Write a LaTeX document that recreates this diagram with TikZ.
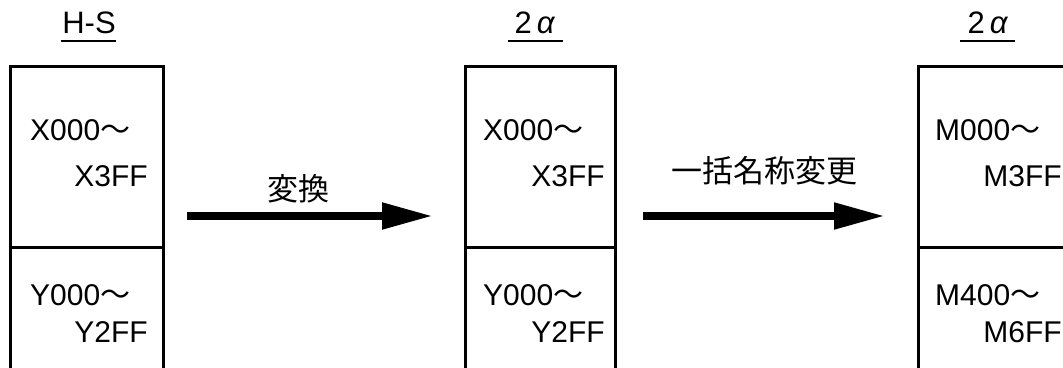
\documentclass[tikz,border=0pt]{standalone}
\usepackage{fontspec}
\setmainfont{Liberation Sans}
\newfontfamily\cjk{Noto Sans CJK JP}
\usetikzlibrary{arrows.meta}
\newcommand\wdash{{\cjk ～}}
\tikzset{
  box/.style={draw, line width=3pt, anchor=north west, inner sep=0pt, outer sep=0pt},
  lbl/.style={inner sep=0pt, font=\fontsize{30}{36}\selectfont},
  ttl/.style={inner sep=0pt, anchor=base, font=\fontsize{31}{36}\selectfont},
  uline/.style={line width=2pt},
  bigarrow/.style={line width=8pt, -{Triangle[length=51pt,width=25pt]}},
  cjklbl/.style={inner sep=0pt, font=\cjk\fontsize{31}{36}\selectfont},
}
\begin{document}
\begin{tikzpicture}[x=1pt,y=-1pt]
\useasboundingbox (0,0) rectangle (1063,367);
\clip (0,0) rectangle (1063,367);
% titles
\node[ttl] (t1) at (89,33) {H-S};
\node[ttl] (t2) at (535,33) {2\hspace{5pt}\textit{α}};
\node[ttl] (t3) at (988,33) {2\hspace{5pt}\textit{α}};
\draw[uline] (61,41) -- (116,41);
\draw[uline] (508,41) -- (563,41);
\draw[uline] (960,41) -- (1015,41);
% boxes
\node[box, minimum width=153pt, minimum height=181pt] (b1u) at (10,66) {};
\node[box, minimum width=153pt, minimum height=150pt] (b1l) at (10,247) {};
\node[box, minimum width=150pt, minimum height=181pt] (b2u) at (465,66) {};
\node[box, minimum width=150pt, minimum height=150pt] (b2l) at (465,247) {};
\node[box, minimum width=153pt, minimum height=181pt] (b3u) at (918,66) {};
\node[box, minimum width=153pt, minimum height=150pt] (b3l) at (918,247) {};
% box texts
\node[lbl, anchor=base west] (x1a) at (30,140) {X000\wdash};
\node[lbl, anchor=base east] (x1b) at (148,186) {X3FF};
\node[lbl, anchor=base west] (y1a) at (30,305) {Y000\wdash};
\node[lbl, anchor=base east] (y1b) at (148,342) {Y2FF};
\node[lbl, anchor=base west] (x2a) at (483,140) {X000\wdash};
\node[lbl, anchor=base east] (x2b) at (605,186) {X3FF};
\node[lbl, anchor=base west] (y2a) at (483,305) {Y000\wdash};
\node[lbl, anchor=base east] (y2b) at (605,342) {Y2FF};
\node[lbl, anchor=base west] (m3a) at (935,140) {M000\wdash};
\node[lbl, anchor=base east] (m3b) at (1062,186) {M3FF};
\node[lbl, anchor=base west] (m3c) at (935,305) {M400\wdash};
\node[lbl, anchor=base east] (m3d) at (1062,342) {M6FF};
% arrows
\coordinate (a1s) at (187,216);
\coordinate (a1e) at (433,216);
\coordinate (a2s) at (643,216);
\coordinate (a2e) at (885,216);
\draw[bigarrow] (a1s) -- (a1e);
\draw[bigarrow] (a2s) -- (a2e);
\node[cjklbl] (l1) at (298,189) {変換};
\node[cjklbl] (l2) at (764,171) {一括名称変更};
\end{tikzpicture}
\end{document}
